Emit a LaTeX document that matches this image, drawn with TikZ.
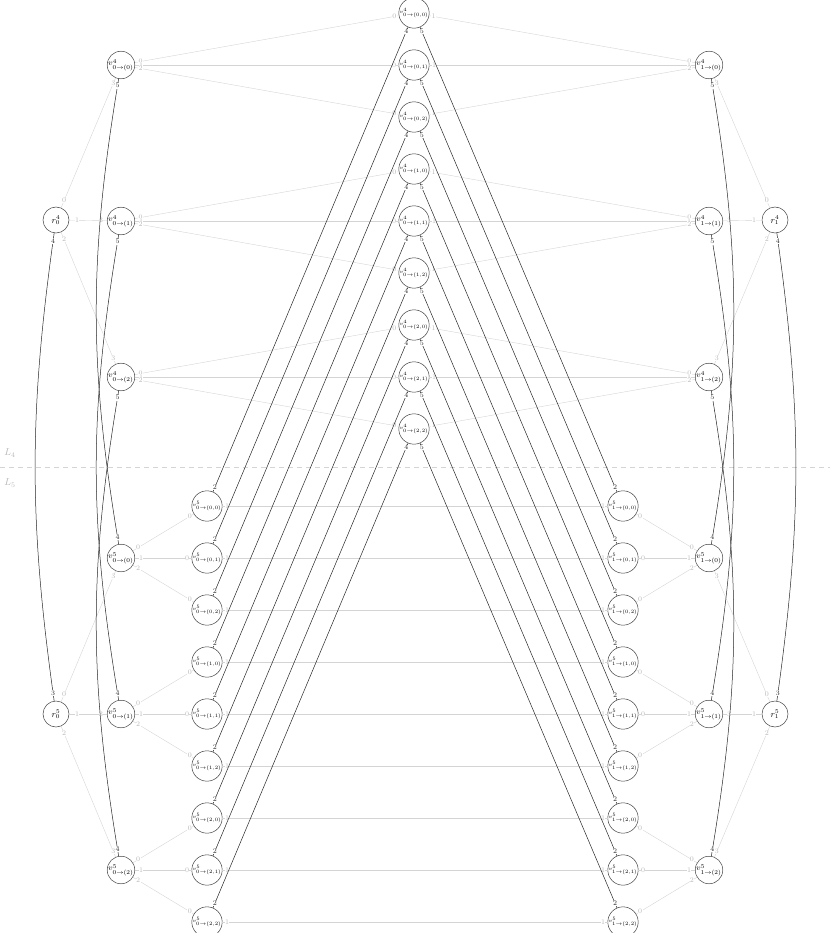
\documentclass[tikz,border=0pt]{standalone}
\usetikzlibrary{calc}
\definecolor{edgegray}{gray}{0.83}
\definecolor{lblgray}{gray}{0.72}
\definecolor{nodegray}{gray}{0.25}
\tikzset{
  vtxbase/.style={circle, draw=nodegray, line width=0.5pt, minimum size=26pt, inner sep=0pt},
  rvtx/.style={vtxbase, font=\small},
  svtx/.style={vtxbase, font=\footnotesize},
  cvtx/.style={vtxbase, font=\tiny},
  gedge/.style={draw=edgegray, line width=0.4pt},
  bedge/.style={draw=black!85, line width=0.5pt},
  glbl/.style={font=\scriptsize, text=lblgray, fill=white, inner sep=0.4pt},
  blbl/.style={font=\scriptsize, text=black!85, fill=white, inner sep=0.4pt},
  layerlbl/.style={text=lblgray, inner sep=0pt},
  sepline/.style={draw=edgegray, dashed, dash pattern=on 5pt off 4pt, line width=0.4pt}
}
\begin{document}
\begin{tikzpicture}[x=1pt,y=1pt]
\useasboundingbox (0,0) rectangle (830,-933);
% separator
\coordinate (sepL) at (0,-467);
\coordinate (sepR) at (830,-467);
\draw[sepline] (sepL) -- (sepR);
\node[layerlbl] (lay4) at (10,-453) {$L_4$};
\node[layerlbl] (lay5) at (10,-483) {$L_5$};
% root nodes
\node[rvtx] (r40) at (56,-220) {$r^4_0$};
\node[rvtx] (r41) at (775,-220) {$r^4_1$};
\node[rvtx] (r50) at (56,-714) {$r^5_0$};
\node[rvtx] (r51) at (775,-714) {$r^5_1$};
% side nodes
\foreach \i in {0,1,2}{
  \node[svtx] (L4\i) at (121,{-65-156*\i}) {$v^4_{0\to(\i)}$};
  \node[svtx] (R4\i) at (709,{-65-156*\i}) {$v^4_{1\to(\i)}$};
  \node[svtx] (L5\i) at (121,{-558-156*\i}) {$v^5_{0\to(\i)}$};
  \node[svtx] (R5\i) at (709,{-558-156*\i}) {$v^5_{1\to(\i)}$};
}
% center and bottom nodes
\foreach \i in {0,1,2}{
  \foreach \j in {0,1,2}{
    \pgfmathtruncatemacro\k{3*\i+\j}
    \node[cvtx] (c\k) at (414,{-13-52*\k}) {$v^4_{0\to(\i,\j)}$};
    \node[cvtx] (bl\k) at (207,{-506-52*\k}) {$v^5_{0\to(\i,\j)}$};
    \node[cvtx] (br\k) at (623,{-506-52*\k}) {$v^5_{1\to(\i,\j)}$};
  }
}
% gray edges
\foreach \i in {0,1,2}{
  \draw[gedge] (r40) -- (L4\i);
  \node[glbl] at ($(r40)!21pt!(L4\i)$) {\i};
  \node[glbl] at ($(L4\i)!20pt!(r40)$) {3};
  \draw[gedge] (r41) -- (R4\i);
  \node[glbl] at ($(r41)!21pt!(R4\i)$) {\i};
  \node[glbl] at ($(R4\i)!20pt!(r41)$) {3};
  \draw[gedge] (r50) -- (L5\i);
  \node[glbl] at ($(r50)!21pt!(L5\i)$) {\i};
  \node[glbl] at ($(L5\i)!20pt!(r50)$) {3};
  \draw[gedge] (r51) -- (R5\i);
  \node[glbl] at ($(r51)!21pt!(R5\i)$) {\i};
  \node[glbl] at ($(R5\i)!20pt!(r51)$) {3};
  \foreach \j in {0,1,2}{
    \pgfmathtruncatemacro\k{3*\i+\j}
    \draw[gedge] (L4\i) -- (c\k);
    \node[glbl] at ($(L4\i)!20pt!(c\k)$) {\j};
    \node[glbl] at ($(c\k)!20pt!(L4\i)$) {0};
    \draw[gedge] (R4\i) -- (c\k);
    \node[glbl] at ($(R4\i)!20pt!(c\k)$) {\j};
    \node[glbl] at ($(c\k)!20pt!(R4\i)$) {1};
    \draw[gedge] (L5\i) -- (bl\k);
    \node[glbl] at ($(L5\i)!20pt!(bl\k)$) {\j};
    \node[glbl] at ($(bl\k)!20pt!(L5\i)$) {0};
    \draw[gedge] (R5\i) -- (br\k);
    \node[glbl] at ($(R5\i)!20pt!(br\k)$) {\j};
    \node[glbl] at ($(br\k)!20pt!(R5\i)$) {0};
    \draw[gedge] (bl\k) -- (br\k);
    \node[glbl] at ($(bl\k)!20pt!(br\k)$) {1};
    \node[glbl] at ($(br\k)!20pt!(bl\k)$) {1};
  }
}
% black straight edges
\foreach \k in {0,...,8}{
  \draw[bedge] (c\k) -- (bl\k);
  \node[blbl] at ($(c\k)!20pt!(bl\k)$) {4};
  \node[blbl] at ($(bl\k)!20pt!(c\k)$) {2};
  \draw[bedge] (c\k) -- (br\k);
  \node[blbl] at ($(c\k)!20pt!(br\k)$) {5};
  \node[blbl] at ($(br\k)!20pt!(c\k)$) {2};
}
% black curved edges
\draw[bedge] (r40) to[bend right=8] (r50);
\node[blbl] at ($(r40)+(-98:21pt)$) {4};
\node[blbl] at ($(r50)+(98:21pt)$) {3};
\draw[bedge] (r41) to[bend left=8] (r51);
\node[blbl] at ($(r41)+(-82:21pt)$) {4};
\node[blbl] at ($(r51)+(82:21pt)$) {3};
\foreach \i in {0,1,2}{
  \draw[bedge] (L4\i) to[bend right=9.5] (L5\i);
  \node[blbl] at ($(L4\i)+(-99.5:21pt)$) {5};
  \node[blbl] at ($(L5\i)+(99.5:21pt)$) {4};
  \draw[bedge] (R4\i) to[bend left=9.5] (R5\i);
  \node[blbl] at ($(R4\i)+(-80.5:21pt)$) {5};
  \node[blbl] at ($(R5\i)+(80.5:21pt)$) {4};
}
\end{tikzpicture}
\end{document}
